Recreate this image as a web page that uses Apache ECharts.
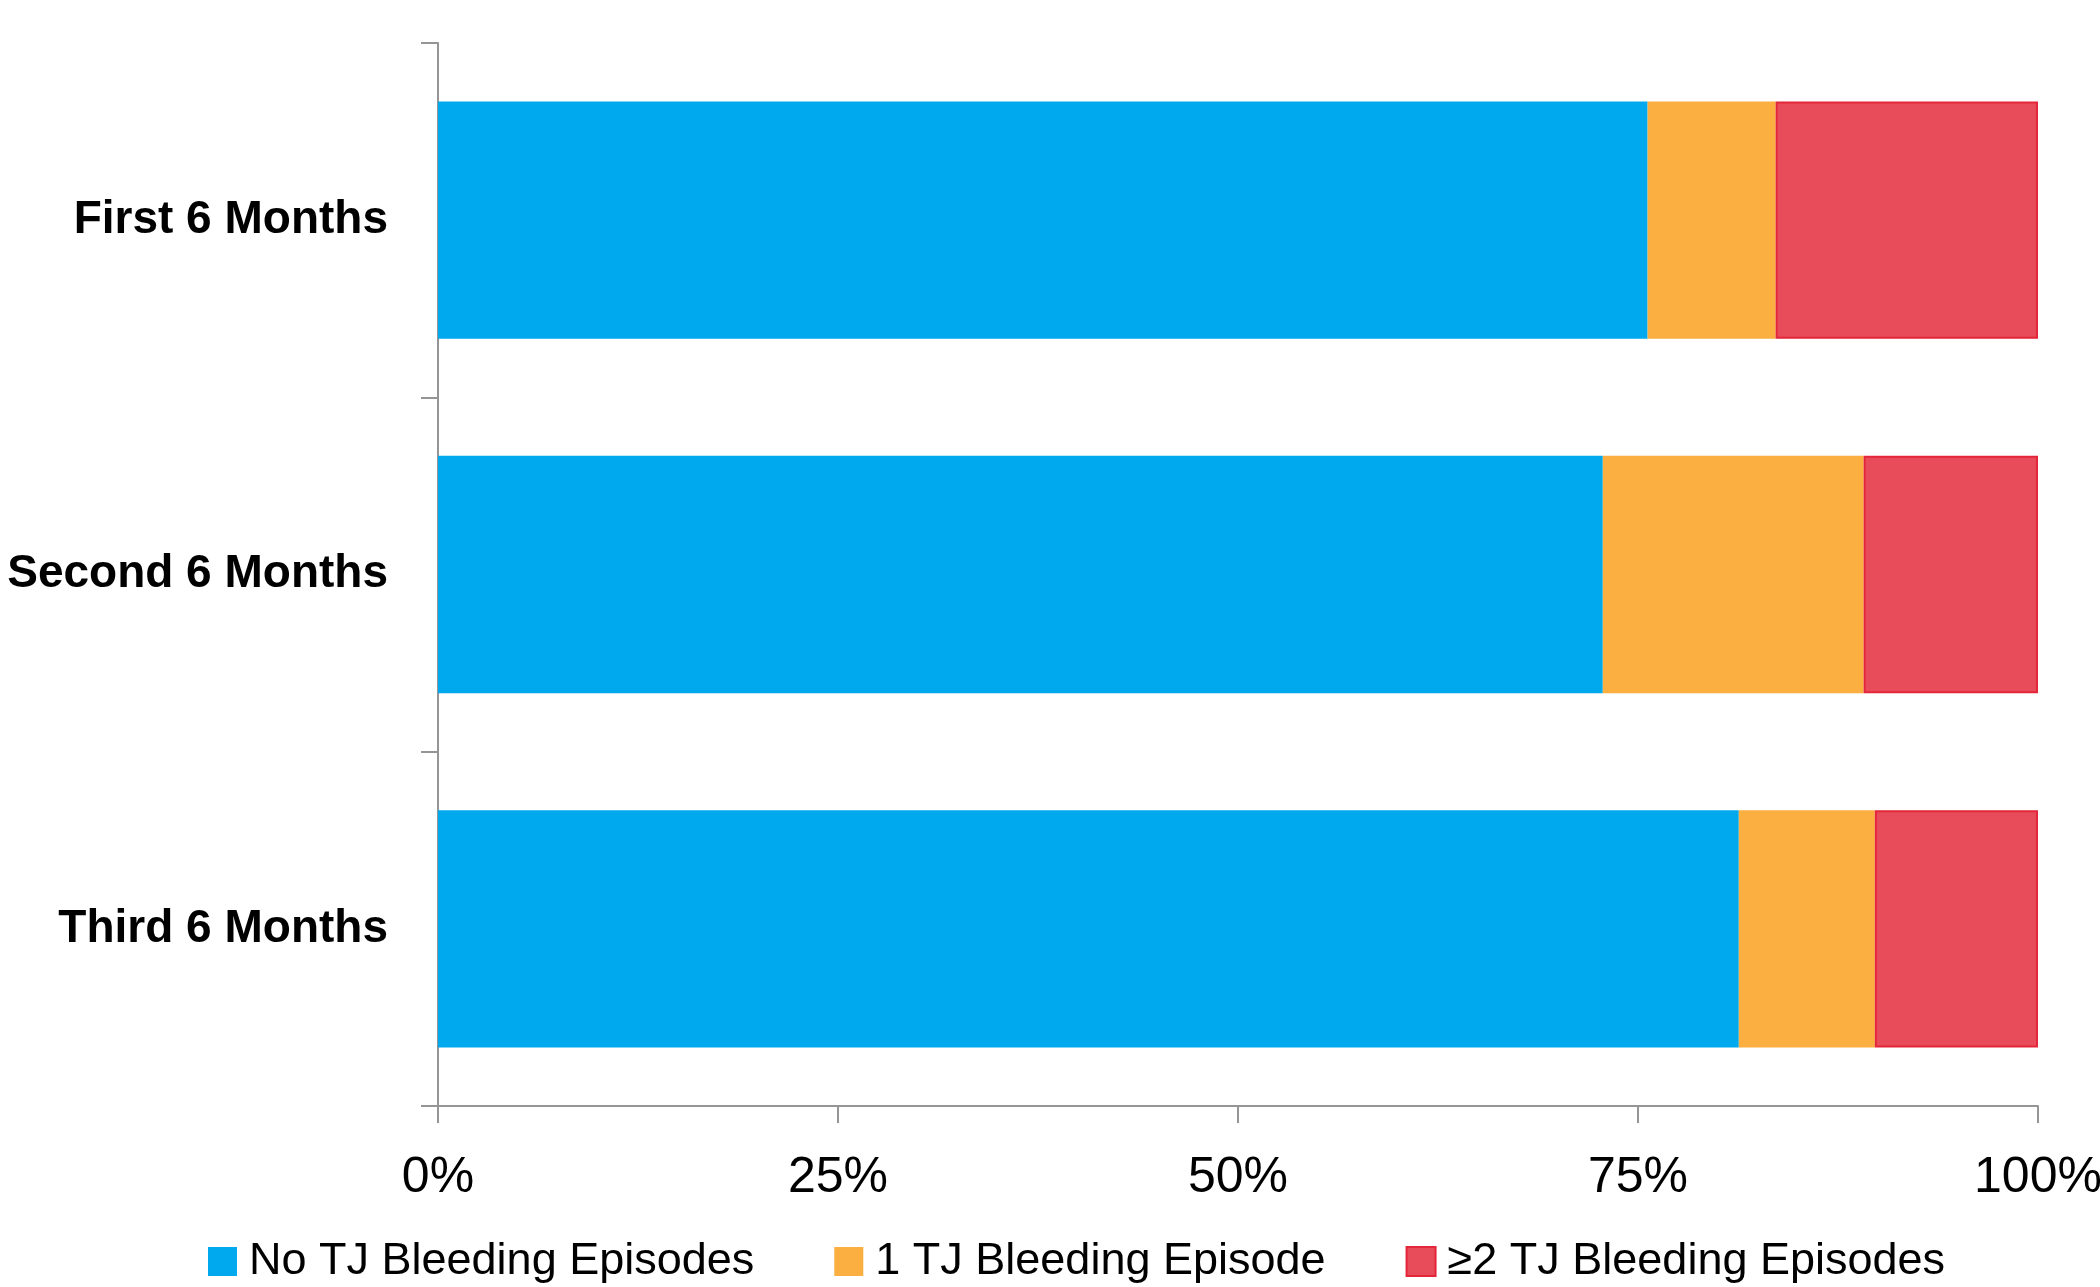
<!DOCTYPE html>
<html><head><meta charset="utf-8">
<script src="https://cdn.jsdelivr.net/npm/echarts@6/dist/echarts.min.js"></script>
<style>html,body{margin:0;padding:0;background:#fff}#c{width:2100px;height:1287px}</style>
</head><body><div id="c"></div>
<script>
const categories = ['First 6 Months', 'Second 6 Months', 'Third 6 Months'];
const seriesNames = ['No TJ Bleeding Episodes', '1 TJ Bleeding Episode', '\u22652 TJ Bleeding Episodes'];
const noEpisodes = [75.6, 72.8, 81.3];
const oneEpisode = [8.0, 16.3, 8.5];
const twoPlusEpisodes = [16.4, 10.9, 10.2];
const xTicks = [0, 25, 50, 75, 100];

const FONT = "'Liberation Sans', Arial, sans-serif";
const colors = ['#00A9EE', '#FBAF41', '#E84B59'];
const borders = ['#00A9EE', '#FBAF41', '#E3263A'];
const data = [noEpisodes, oneEpisode, twoPlusEpisodes];

const chart = echarts.init(document.getElementById('c'));
chart.setOption({
  animation: false,
  backgroundColor: '#fff',
  grid: { left: 438, right: 62, top: 43, bottom: 181, containLabel: false, outerBoundsMode: 'none' },
  legend: {
    data: seriesNames,
    left: 203, top: 1234,
    itemWidth: 29, itemHeight: 29, itemGap: 80,
    icon: 'rect',
    textStyle: { fontFamily: FONT, fontSize: 45, color: '#000', padding: [0, 0, 0, 7] }
  },
  xAxis: {
    type: 'value', min: 0, max: 100, interval: 25,
    axisLine: { show: true, lineStyle: { color: '#959595', width: 2 } },
    axisTick: { show: true, length: 17, lineStyle: { color: '#959595', width: 2 } },
    splitLine: { show: false },
    axisLabel: { formatter: v => xTicks.includes(v) ? v + '%' : '', fontFamily: FONT, fontSize: 50, color: '#000', margin: 47 }
  },
  yAxis: {
    type: 'category', data: categories, inverse: true,
    axisLine: { show: true, lineStyle: { color: '#959595', width: 2 } },
    axisTick: { show: true, length: 17, alignWithLabel: false, lineStyle: { color: '#959595', width: 2 } },
    axisLabel: { fontFamily: FONT, fontWeight: 'bold', fontSize: 46, color: '#000', margin: 50, padding: [6, 0, 0, 0] }
  },
  series: seriesNames.map((n, i) => ({
    name: n, type: 'bar', stack: 'all', data: data[i],
    barCategoryGap: '33%',
    itemStyle: { color: colors[i], borderColor: borders[i], borderWidth: i === 2 ? 2 : 0 }
  }))
});
</script></body></html>
